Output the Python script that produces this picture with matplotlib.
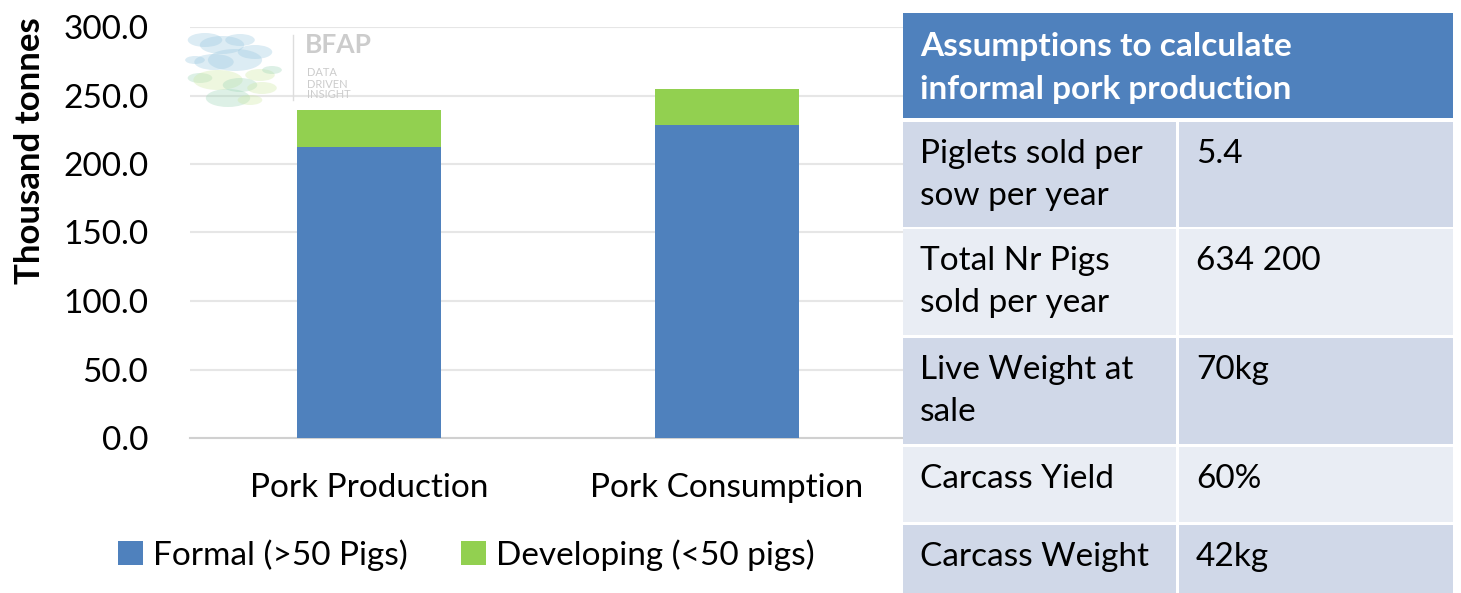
import matplotlib.pyplot as plt
from matplotlib.patches import Rectangle, Circle

plt.rcParams['font.family'] = ['Lato', 'DejaVu Sans']

categories = ['Pork Production', 'Pork Consumption']
formal = [212.4, 228.8]
developing = [27.0, 25.9]
series_names = ['Formal (>50 Pigs)', 'Developing (<50 pigs)']
yticks = [0, 50, 100, 150, 200, 250, 300]

table_title = 'Assumptions to calculate\ninformal pork production'
table_labels = ['Piglets sold per\nsow per year', 'Total Nr Pigs\nsold per year',
                'Live Weight at\nsale', 'Carcass Yield', 'Carcass Weight']
table_values = ['5.4', '634 200', '70kg', '60%', '42kg']

BLUE = '#4F81BD'
GREEN = '#92D050'
W, H = 1461, 593

fig = plt.figure(figsize=(W / 100, H / 100), dpi=100)
ax = fig.add_axes([190 / W, 1 - 438 / H, 716 / W, 411 / H])

x = range(len(categories))
ax.bar(x, formal, width=0.4, color=BLUE, label=series_names[0], zorder=3)
ax.bar(x, developing, width=0.4, bottom=formal, color=GREEN, label=series_names[1], zorder=3)

ax.set_xlim(-0.5, 1.5)
ax.set_ylim(0, 300)
ax.set_yticks(yticks)
ax.set_yticklabels([f'{v:.1f}' for v in yticks], fontsize=24)
ax.set_xticks(list(x))
ax.set_xticklabels(categories, fontsize=24)
ax.tick_params(axis='both', length=0)
ax.tick_params(axis='x', pad=25)
ax.tick_params(axis='y', pad=30)
ax.grid(axis='y', color='#e6e6e6', linewidth=1.5, zorder=0)
for s in ['top', 'right', 'left']:
    ax.spines[s].set_visible(False)
ax.spines['bottom'].set_color('#d0d0d0')
ax.spines['bottom'].set_linewidth(1.5)
ax.set_ylabel('Thousand tonnes', fontsize=25, fontweight='bold')
ax.yaxis.set_label_coords(-(190 - 46) / 716, 0.70)

fig.legend(loc='center', bbox_to_anchor=(466 / W, 1 - 555 / H), ncol=2, frameon=False,
           fontsize=24, handlelength=0.75, handleheight=0.75, handletextpad=0.3,
           columnspacing=1.6)

# watermark
wm = [(205, 40, 7), (222, 45, 9), (240, 40, 6), (214, 62, 8), (235, 60, 11), (255, 52, 7),
      (260, 75, 6), (200, 78, 5), (218, 80, 10), (240, 85, 7), (262, 88, 6), (228, 98, 9),
      (250, 100, 5), (272, 70, 4), (195, 60, 4)]
for i, (cx, cy, r) in enumerate(wm):
    col = '#9cc9e0' if cy < 70 else ('#9fd6b8' if i % 2 else '#cfe9a6')
    fig.patches.append(Circle((cx / W, 1 - cy / H), r / H, transform=fig.transFigure,
                              facecolor=col, alpha=0.35, edgecolor='none'))
fig.add_artist(plt.Line2D([293 / W, 293 / W], [1 - 35 / H, 1 - 100 / H],
                          color='#dddddd', lw=1, transform=fig.transFigure))
fig.text(305 / W, 1 - 45 / H, 'BFAP', fontsize=19, fontweight='bold', color='#cccccc', va='center')
fig.text(307 / W, 1 - 84 / H, 'DATA\nDRIVEN\nINSIGHT', fontsize=8, color='#cccccc',
         va='center', linespacing=1.0)

# table
tx0, tx1, tdiv = 903, 1453, 1177
fig.patches.append(Rectangle((tx0 / W, 1 - 118 / H), (tx1 - tx0) / W, 105 / H,
                             transform=fig.transFigure, facecolor=BLUE, edgecolor='none'))
fig.text(920 / W, 1 - 68 / H, table_title, fontsize=24, fontweight='bold', color='white',
         va='center', linespacing=1.6)
rows = [(122, 227), (229, 335), (338, 444), (447, 522), (525, 593)]
for i, (y0, y1) in enumerate(rows):
    col = '#D0D8E8' if i % 2 == 0 else '#E9EDF4'
    for a, b in [(tx0, tdiv - 1), (tdiv + 2, tx1)]:
        fig.patches.append(Rectangle((a / W, 1 - y1 / H), (b - a) / W, (y1 - y0) / H,
                                     transform=fig.transFigure, facecolor=col, edgecolor='none'))
    fig.text(920 / W, 1 - (y0 + 17) / H, table_labels[i], fontsize=24, va='top', linespacing=1.5)
    fig.text(1196 / W, 1 - (y0 + 17) / H, table_values[i], fontsize=24, va='top')

fig.savefig('out.png', dpi=100)
